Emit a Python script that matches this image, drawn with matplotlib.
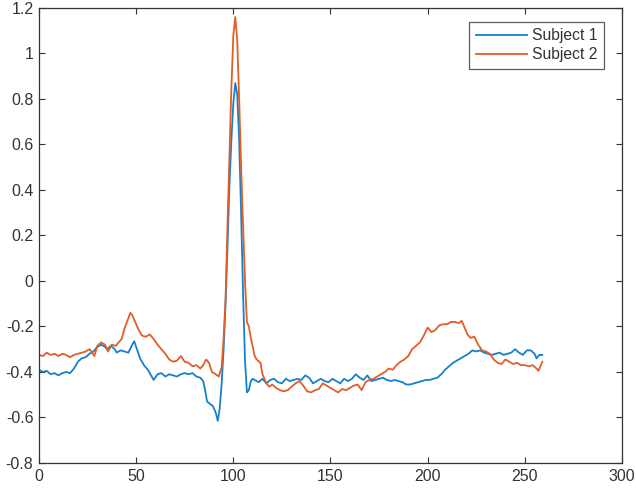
import matplotlib
matplotlib.use("Agg")
import matplotlib.pyplot as plt
from matplotlib.ticker import FormatStrFormatter

plt.rcParams['font.family'] = ['Liberation Sans', 'DejaVu Sans']
plt.rcParams['axes.unicode_minus'] = False

# Subject 1 (blue)
x1 = [0, 2, 4, 6, 8, 10, 12, 14, 16, 18, 20, 22, 24, 26, 28, 30, 32, 34, 35, 37, 39, 40, 42, 44, 46, 48, 49,
      50, 52, 54, 56, 58, 59, 61, 63, 65, 67, 69, 71, 73, 75, 77, 79, 81, 83, 84.5, 85.5, 86.5, 88, 89.5, 91,
      92, 93, 94, 95, 96, 97, 98, 99, 100, 101, 102, 103, 104, 105, 106, 107, 108, 109, 110, 111, 113, 115,
      117, 119, 121, 123, 125, 127, 129, 131, 133, 135, 137, 139, 141, 143, 145, 147, 149, 151, 153, 155, 157,
      159, 161, 163, 165, 167, 169, 171, 173, 175, 177, 179, 181, 183, 185, 187, 189, 191, 193, 195, 197, 199,
      201, 203, 205, 207, 209, 211, 213, 215, 217, 219, 221, 223, 225, 227, 229, 231, 233, 235, 237, 239, 241,
      243, 245, 247, 249, 251, 253, 255, 256, 257.5, 259]
y1 = [-0.39, -0.40, -0.395, -0.41, -0.405, -0.415, -0.405, -0.40, -0.405, -0.385, -0.355, -0.34, -0.335,
      -0.32, -0.31, -0.29, -0.28, -0.29, -0.30, -0.285, -0.30, -0.315, -0.305, -0.31, -0.315, -0.28, -0.265,
      -0.29, -0.34, -0.37, -0.39, -0.42, -0.435, -0.41, -0.405, -0.42, -0.41, -0.415, -0.42, -0.41, -0.405,
      -0.41, -0.405, -0.42, -0.425, -0.44, -0.48, -0.53, -0.54, -0.55, -0.58, -0.615, -0.56, -0.45, -0.30,
      -0.10, 0.15, 0.42, 0.62, 0.78, 0.87, 0.82, 0.62, 0.30, -0.05, -0.35, -0.49, -0.48, -0.44, -0.43, -0.435,
      -0.445, -0.43, -0.45, -0.435, -0.43, -0.445, -0.45, -0.43, -0.44, -0.435, -0.43, -0.435, -0.415, -0.425,
      -0.45, -0.44, -0.43, -0.44, -0.445, -0.43, -0.44, -0.45, -0.43, -0.44, -0.43, -0.41, -0.425, -0.435,
      -0.415, -0.44, -0.435, -0.43, -0.425, -0.435, -0.44, -0.435, -0.44, -0.445, -0.455, -0.455, -0.45,
      -0.445, -0.44, -0.435, -0.435, -0.43, -0.425, -0.41, -0.39, -0.375, -0.36, -0.35, -0.34, -0.33, -0.32,
      -0.305, -0.31, -0.305, -0.315, -0.32, -0.325, -0.32, -0.315, -0.325, -0.32, -0.315, -0.30, -0.315,
      -0.325, -0.305, -0.305, -0.32, -0.34, -0.325, -0.325]

# Subject 2 (orange)
x2 = [0, 2, 4, 6, 8, 10, 12, 14, 16, 18, 20, 22, 24, 26, 27, 28.5, 30, 32, 34, 35.5, 37.5, 39.5, 41, 42.5,
      44, 45.5, 47, 48, 49.5, 51, 53, 55, 57, 59, 61, 63, 65, 67, 69, 71, 73, 75, 77, 79, 81, 83, 84.5, 86,
      87.5, 89, 91, 92.5, 94, 95, 96, 97, 98, 99, 100, 101, 102, 103, 104, 105, 106, 107, 108, 109, 110, 111,
      112, 114, 115, 117, 118.5, 120, 122, 124, 126, 128, 130, 132, 134, 136, 138, 140, 142, 144, 146, 148,
      150, 152, 154, 156, 158, 160, 162, 164, 166, 168, 170, 172, 174, 176, 178, 180, 182, 184, 186, 188, 190,
      192, 194, 196, 198, 200, 202, 204, 206, 208, 210, 212, 214, 216, 217.5, 219, 220.5, 222, 224, 226, 228,
      230, 232, 234, 236, 238, 240, 242, 244, 246, 248, 250, 252, 254, 256, 257, 258, 259]
y2 = [-0.325, -0.33, -0.315, -0.325, -0.32, -0.33, -0.32, -0.325, -0.335, -0.325, -0.32, -0.315, -0.31,
      -0.30, -0.31, -0.33, -0.285, -0.27, -0.28, -0.31, -0.28, -0.285, -0.27, -0.255, -0.21, -0.175, -0.14,
      -0.15, -0.18, -0.21, -0.24, -0.245, -0.235, -0.255, -0.28, -0.30, -0.32, -0.345, -0.355, -0.35, -0.33,
      -0.355, -0.36, -0.375, -0.37, -0.385, -0.37, -0.345, -0.36, -0.40, -0.41, -0.42, -0.38, -0.25, -0.08,
      0.25, 0.55, 0.85, 1.08, 1.16, 1.06, 0.80, 0.50, 0.25, 0.0, -0.18, -0.20, -0.25, -0.29, -0.33, -0.345,
      -0.36, -0.41, -0.45, -0.465, -0.455, -0.47, -0.48, -0.485, -0.48, -0.465, -0.45, -0.44, -0.46, -0.485,
      -0.49, -0.48, -0.475, -0.45, -0.46, -0.47, -0.48, -0.49, -0.475, -0.48, -0.47, -0.46, -0.455, -0.48,
      -0.445, -0.435, -0.43, -0.42, -0.41, -0.40, -0.385, -0.39, -0.37, -0.355, -0.345, -0.33, -0.30, -0.285,
      -0.27, -0.24, -0.205, -0.225, -0.215, -0.195, -0.19, -0.19, -0.18, -0.18, -0.185, -0.175, -0.205,
      -0.235, -0.25, -0.245, -0.28, -0.305, -0.31, -0.32, -0.345, -0.36, -0.365, -0.345, -0.355, -0.365,
      -0.36, -0.37, -0.37, -0.375, -0.37, -0.385, -0.395, -0.375, -0.355]

labels = ['Subject 1', 'Subject 2']

fig = plt.figure(figsize=(6.36, 4.93), dpi=100)
ax = fig.add_axes([0.0613, 0.0609, 0.9167, 0.9229])
ax.plot(x1, y1, color='#1580CC', linewidth=1.3, label=labels[0])
ax.plot(x2, y2, color='#E35D27', linewidth=1.3, label=labels[1])

ax.set_xlim(0, 300)
ax.set_ylim(-0.8, 1.2)
ax.set_xticks(range(0, 301, 50))
ax.set_yticks([-0.8, -0.6, -0.4, -0.2, 0, 0.2, 0.4, 0.6, 0.8, 1, 1.2])
ax.yaxis.set_major_formatter(FormatStrFormatter('%g'))
ax.tick_params(direction='in', top=True, right=True, length=4, width=0.8,
               labelsize=11.5, colors='#333333', pad=4)
for s in ax.spines.values():
    s.set_color('#333333')
    s.set_linewidth(0.9)

leg = ax.legend(loc='upper right', bbox_to_anchor=(0.969, 0.969), borderaxespad=0,
                fontsize=11.3, frameon=True, fancybox=False, handlelength=3.3,
                handletextpad=0.3, borderpad=0.4, labelspacing=0.25)
leg.get_frame().set_edgecolor('#333333')
leg.get_frame().set_linewidth(0.9)
for t in leg.get_texts():
    t.set_color('#333333')

fig.savefig('out.png', dpi=100)
